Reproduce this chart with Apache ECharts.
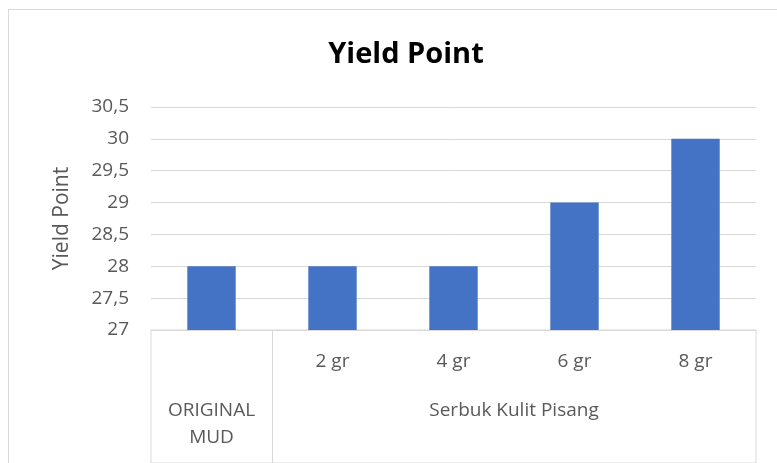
<!DOCTYPE html>
<html>
<head>
<meta charset="utf-8">
<script src="https://cdn.jsdelivr.net/npm/echarts@6/dist/echarts.min.js"></script>
<style>
  html, body { margin: 0; padding: 0; background: #fff; overflow: hidden; }
  #frame { position: absolute; left: 8px; top: 9px; width: 800px; height: 500px; border: 1px solid #d9d9d9; }
  #main { position: absolute; left: 0; top: 0; width: 777px; height: 463px; }
</style>
</head>
<body>
<div id="frame"></div>
<div id="main"></div>
<script>
// data
var categories = ['ORIGINAL MUD', '2 gr', '4 gr', '6 gr', '8 gr'];
var subLabels = ['', '2 gr', '4 gr', '6 gr', '8 gr'];
var groupLabels = [
  { at: 0.5, text: 'ORIGINAL\nMUD' },
  { at: 3, text: 'Serbuk Kulit Pisang' }
];
var groupEdges = [1]; // separator between the two groups
var yieldPoint = [28, 28, 28, 29, 30];

var font = '"Open Sans", "Noto Sans", sans-serif';
var grey = '#595959';
var lineGrey = '#d9d9d9';

var myChart = echarts.init(document.getElementById('main'), null, { renderer: 'canvas' });

var option = {
  backgroundColor: 'transparent',
  animation: false,
  title: {
    text: 'Yield Point',
    left: 401,
    top: 35,
    textAlign: 'center',
    textStyle: { fontFamily: font, fontWeight: 'bold', fontSize: 29, color: '#000' }
  },
  grid: [
    { left: 151, right: 21, top: 107, bottom: 133 },
    { left: 151, right: 21, top: 330, height: 150, show: true, borderColor: lineGrey, borderWidth: 1, backgroundColor: 'transparent' }
  ],
  xAxis: [
    {
      type: 'category',
      gridIndex: 0,
      data: subLabels,
      axisLine: { lineStyle: { color: lineGrey } },
      axisTick: { show: false },
      axisLabel: { margin: 22, fontFamily: font, fontSize: 19, color: grey }
    },
    {
      type: 'value',
      gridIndex: 1,
      position: 'top',
      min: 0,
      max: categories.length,
      interval: 0.5,
      axisLine: { show: false },
      axisTick: { show: false },
      splitLine: { show: false },
      axisLabel: {
        inside: true,
        margin: 67,
        verticalAlign: 'top',
        lineHeight: 27,
        fontFamily: font,
        fontSize: 19,
        color: grey,
        formatter: function (v) {
          for (var i = 0; i < groupLabels.length; i++) {
            if (Math.abs(groupLabels[i].at - v) < 1e-6) return groupLabels[i].text;
          }
          return '';
        }
      }
    }
  ],
  yAxis: [
    {
      type: 'value',
      gridIndex: 0,
      min: 27,
      max: 30.5,
      interval: 0.5,
      name: 'Yield Point',
      nameLocation: 'middle',
      nameGap: 78,
      nameTextStyle: { fontFamily: font, fontSize: 21, color: grey },
      axisLine: { show: false },
      axisTick: { show: false },
      axisLabel: {
        margin: 22,
        fontFamily: font,
        fontSize: 19,
        color: grey,
        formatter: function (v) { return String(v).replace('.', ','); }
      },
      splitLine: { lineStyle: { color: lineGrey, width: 1 } }
    },
    { type: 'value', gridIndex: 1, show: false, min: 0, max: 1 }
  ],
  series: [
    {
      name: 'Yield Point',
      type: 'bar',
      xAxisIndex: 0,
      yAxisIndex: 0,
      data: yieldPoint,
      barWidth: '40%',
      itemStyle: { color: '#4472C4' }
    },
    {
      name: 'groups',
      type: 'scatter',
      xAxisIndex: 1,
      yAxisIndex: 1,
      data: [],
      silent: true,
      markLine: {
        silent: true,
        symbol: 'none',
        label: { show: false },
        lineStyle: { color: lineGrey, type: 'solid', width: 1 },
        data: groupEdges.map(function (e) { return { xAxis: e }; })
      }
    }
  ]
};

myChart.setOption(option);
</script>
</body>
</html>
